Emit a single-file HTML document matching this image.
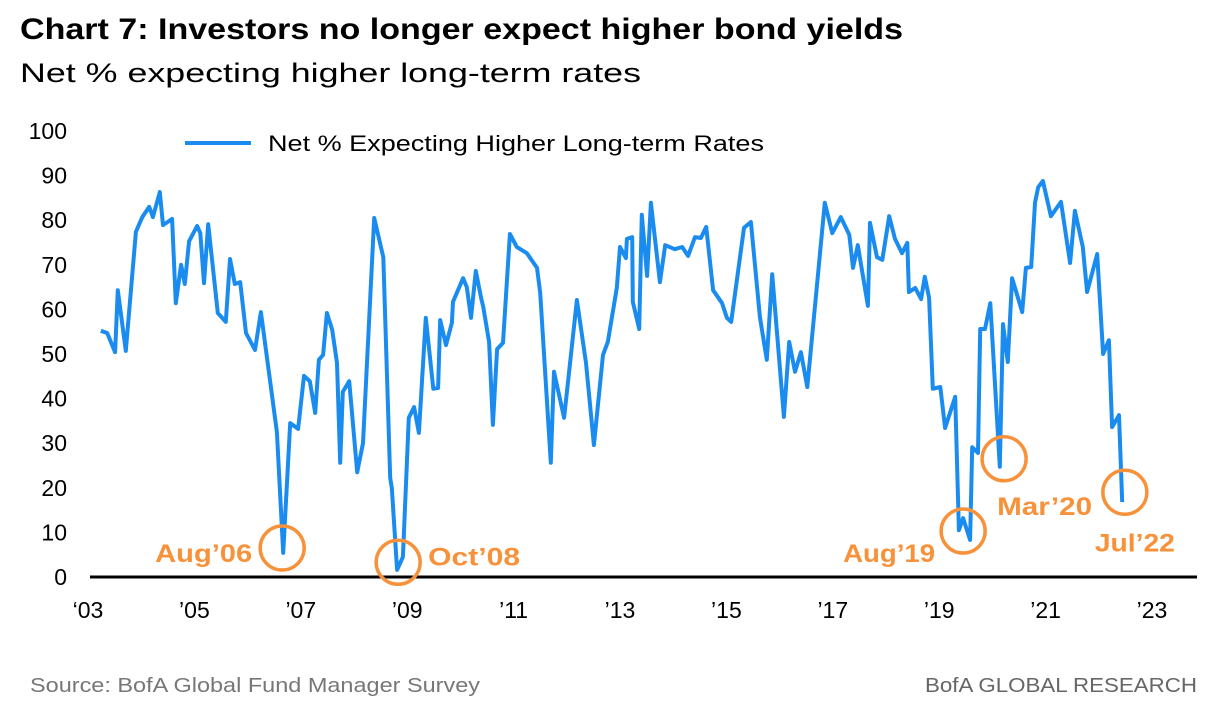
<!DOCTYPE html>
<html><head><meta charset="utf-8">
<style>
body{margin:0;background:#fff;width:1212px;height:706px;overflow:hidden;font-family:"Liberation Sans",sans-serif;}
svg{display:block}
</style></head>
<body>
<svg id="chart" width="1212" height="706">
<text x="20" y="39" font-size="30" font-weight="bold" fill="#000" textLength="883" lengthAdjust="spacingAndGlyphs">Chart 7: Investors no longer expect higher bond yields</text>
<text x="20" y="82" font-size="27" fill="#000" textLength="621" lengthAdjust="spacingAndGlyphs">Net % expecting higher long-term rates</text>
<g>
<line x1="185" y1="143" x2="251" y2="143" stroke="#1A8CF0" stroke-width="4"/>
<text x="268" y="151" font-size="22" fill="#000" textLength="496" lengthAdjust="spacingAndGlyphs">Net % Expecting Higher Long-term Rates</text>
</g>
<g id="yaxis"></g>
<g id="xaxis"></g>
<path id="line" fill="none" stroke="#1A8CF0" stroke-width="4" stroke-linejoin="round"/>
<line x1="90" y1="577" x2="1197" y2="577" stroke="#000" stroke-width="3"/>
<g id="annos"></g>
<text x="30" y="692" font-size="20" fill="#777" textLength="450" lengthAdjust="spacingAndGlyphs">Source: BofA Global Fund Manager Survey</text>
<text x="925" y="692" font-size="20" fill="#666" textLength="272" lengthAdjust="spacingAndGlyphs">BofA GLOBAL RESEARCH</text>
</svg>
<script>
const dates = [2003.24,2003.36,2003.51,2003.56,2003.71,2003.9,2004.02,2004.15,2004.22,2004.35,2004.41,2004.58,2004.65,2004.75,2004.82,2004.9,2005.05,2005.11,2005.18,2005.26,2005.44,2005.59,2005.67,2005.76,2005.86,2005.97,2006.14,2006.25,2006.55,2006.67,2006.8,2006.95,2007.06,2007.17,2007.27,2007.34,2007.42,2007.49,2007.59,2007.68,2007.74,2007.79,2007.91,2008.06,2008.17,2008.38,2008.55,2008.68,2008.71,2008.81,2008.92,2009.03,2009.13,2009.22,2009.35,2009.49,2009.58,2009.62,2009.73,2009.84,2009.86,2010.05,2010.12,2010.2,2010.29,2010.39,2010.43,2010.54,2010.61,2010.69,2010.8,2010.93,2011.06,2011.25,2011.44,2011.5,2011.7,2011.76,2011.95,2012.19,2012.36,2012.51,2012.68,2012.77,2012.94,2013.0,2013.11,2013.13,2013.23,2013.24,2013.36,2013.41,2013.51,2013.58,2013.75,2013.85,2014.03,2014.17,2014.28,2014.41,2014.52,2014.62,2014.75,2014.92,2015.01,2015.09,2015.33,2015.46,2015.63,2015.76,2015.86,2016.08,2016.18,2016.29,2016.4,2016.52,2016.85,2016.99,2017.15,2017.31,2017.38,2017.47,2017.66,2017.7,2017.83,2017.93,2018.06,2018.17,2018.3,2018.4,2018.43,2018.55,2018.66,2018.73,2018.81,2018.88,2019.02,2019.11,2019.3,2019.37,2019.45,2019.58,2019.62,2019.73,2019.77,2019.86,2019.96,2020.14,2020.2,2020.29,2020.37,2020.56,2020.63,2020.73,2020.8,2020.86,2020.95,2021.1,2021.29,2021.46,2021.55,2021.7,2021.78,2021.97,2022.08,2022.19,2022.25,2022.38,2022.44];
const values = [55.2,54.7,50.4,64.3,50.7,77.4,80.7,83,80.7,86.3,78.9,80.3,61.4,70,65.7,75.3,78.7,77.1,65.9,79.1,59.2,57.2,71.3,65.7,66.1,54.7,50.9,59.4,32.5,5.4,34.5,33.2,45.1,43.9,36.8,48.7,49.8,59.2,55.4,48,25.6,41.5,43.9,23.5,30,80.5,71.7,22.2,20,1.6,4.5,35.7,38.1,32.3,58.1,42.2,42.4,57.6,52,57,61.7,67,65,58.1,68.6,62.6,60.5,52.7,34.1,51.1,52.5,76.9,74,72.6,69.3,63.7,25.6,46,35.7,62.1,48,29.6,49.8,52.7,64.8,74,71.5,75.8,76.2,61.7,55.6,81.2,67.5,83.9,66.1,74.4,73.5,74,72,76.2,76,78.5,64.3,61.4,58.1,57.2,78.3,79.6,58.3,48.7,67.9,35.9,52.7,46,50.4,42.6,83.9,77.1,80.7,76.7,69.3,74.4,60.8,79.4,71.7,71.1,80.9,75.8,72.6,74.9,63.9,64.8,62.3,67.3,62.6,42.2,42.6,33.4,40.4,10.5,13.2,8.3,29.1,27.8,55.6,55.6,61.4,24.7,56.7,48.2,67,59.4,69.3,69.5,83.9,87.4,88.8,80.9,84.1,70.4,82.1,74,63.9,72.4,50,53.1,33.6,36.3,16.8];
const yTicks = [0,10,20,30,40,50,60,70,80,90,100];
const xTicks = [2003,2005,2007,2009,2011,2013,2015,2017,2019,2021,2023];
const xTickLabels = ["‘03","’05","’07","’09","’11","’13","’15","’17","’19","’21","’23"];
const annoLabels = ["Aug’06","Oct’08","Aug’19","Mar’20","Jul’22"];
const annoDates = [2006.65,2008.83,2019.45,2020.22,2022.49];
const annoValues = [6.5,3.3,10.3,26.5,19.0];

const NS="http://www.w3.org/2000/svg";
const x = d => 88 + (d-2003)*53.2;
const y = v => 577 - v*4.46;
function mk(tag,attrs,parent){const e=document.createElementNS(NS,tag);for(const k in attrs)e.setAttribute(k,attrs[k]);parent.appendChild(e);return e;}

const ya=document.getElementById('yaxis');
yTicks.forEach(t=>{
  const e=mk('text',{x:67,y:y(t)+8,'font-size':23,'text-anchor':'end',fill:'#000'},ya);
  e.textContent=t;
  
  
});
const xa=document.getElementById('xaxis');
xTicks.forEach((t,i)=>{
  const e=mk('text',{x:x(t),y:618,'font-size':23,'text-anchor':'middle',fill:'#000'},xa);
  e.textContent=xTickLabels[i];
  
  
});
document.getElementById('line').setAttribute('d',dates.map((d,i)=>(i?'L':'M')+x(d).toFixed(1)+' '+y(values[i]).toFixed(1)).join(' '));

const an=document.getElementById('annos');
const labelOffsets=[[-30,6,'end',97],[30,-5,'start',92],[-28,23,'end',92],[-7,48,'start',95],[-30,51,'start',80]];
annoDates.forEach((d,i)=>{
  const cx=x(d), cy=y(annoValues[i]);
  const c=mk('circle',{cx:cx,cy:cy,r:22,fill:'none',stroke:'#F7923A','stroke-width':3.5},an);
  
  
  const o=labelOffsets[i];
  const t=mk('text',{x:cx+o[0],y:cy+o[1]+8,'font-size':25,'font-weight':'bold',fill:'#F7923A','text-anchor':o[2],textLength:o[3],lengthAdjust:'spacingAndGlyphs'},an);
  t.textContent=annoLabels[i];
  
  
});
</script>
</body></html>
